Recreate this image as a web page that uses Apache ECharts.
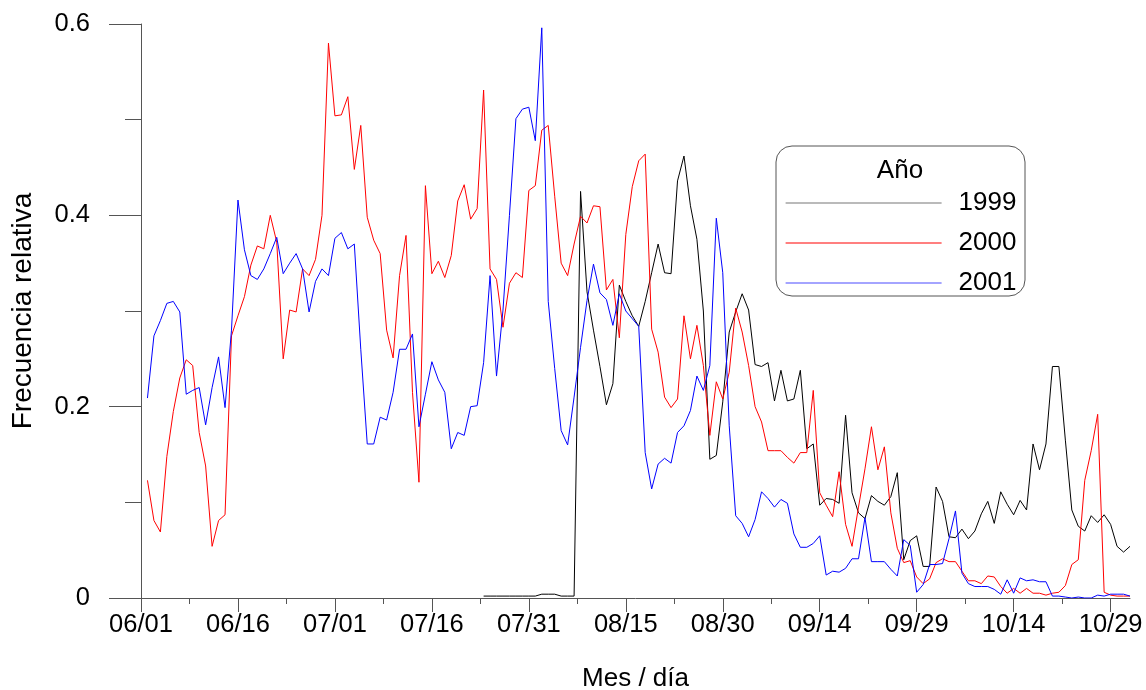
<!DOCTYPE html>
<html>
<head>
<meta charset="utf-8">
<script src="https://cdn.jsdelivr.net/npm/echarts@6/dist/echarts.min.js"></script>
<style>
  html, body { margin: 0; padding: 0; background: #ffffff; }
  #chart { width: 1146px; height: 690px; }
</style>
</head>
<body>
<div id="chart"></div>
<script>
// Day 0 is 06/01; the x axis counts days from there.
const DAY_MAX = 153;
const majorTicks = [0, 15, 30, 45, 60, 75, 90, 105, 120, 135, 150];
const minorTicks = [7.5, 22.5, 37.5, 52.5, 67.5, 82.5, 97.5, 112.5, 127.5, 142.5];
const seriesNames = ['1999', '2000', '2001'];

// 1999 — starts on day 53
const start1999 = 53;
const values1999 = [
  0.002, 0.002, 0.002, 0.002, 0.002, 0.002, 0.002, 0.002, 0.002, 0.004,
  0.004, 0.004, 0.002, 0.002, 0.002, 0.425, 0.320, 0.280, 0.242, 0.202,
  0.224, 0.327, 0.310, 0.295, 0.284, 0.310, 0.340, 0.370, 0.340, 0.339,
  0.436, 0.462, 0.410, 0.375, 0.300, 0.145, 0.149, 0.205, 0.278, 0.299,
  0.318, 0.301, 0.244, 0.242, 0.246, 0.206, 0.238, 0.206, 0.208, 0.238,
  0.156, 0.161, 0.097, 0.104, 0.103, 0.099, 0.191, 0.110, 0.089, 0.083,
  0.107, 0.101, 0.097, 0.106, 0.131, 0.040, 0.060, 0.065, 0.033, 0.033,
  0.116, 0.101, 0.064, 0.063, 0.072, 0.062, 0.070, 0.088, 0.101, 0.078,
  0.111, 0.098, 0.087, 0.102, 0.092, 0.161, 0.134, 0.161, 0.242, 0.242,
  0.165, 0.092, 0.075, 0.070, 0.086, 0.079, 0.087, 0.077, 0.054, 0.048,
  0.054
];

// 2000 — starts on day 1
const start2000 = 1;
const values2000 = [
  0.123, 0.081, 0.069, 0.148, 0.195, 0.230, 0.249, 0.243, 0.173, 0.138,
  0.054, 0.081, 0.087, 0.274, 0.295, 0.315, 0.348, 0.368, 0.365, 0.400,
  0.372, 0.250, 0.301, 0.299, 0.344, 0.337, 0.354, 0.400, 0.580, 0.504,
  0.505, 0.524, 0.448, 0.494, 0.398, 0.374, 0.360, 0.280, 0.251, 0.337,
  0.379, 0.215, 0.121, 0.431, 0.339, 0.352, 0.335, 0.358, 0.415, 0.432,
  0.396, 0.407, 0.531, 0.344, 0.333, 0.283, 0.329, 0.340, 0.335, 0.426,
  0.431, 0.489, 0.494, 0.420, 0.350, 0.337, 0.370, 0.399, 0.392, 0.410,
  0.409, 0.322, 0.333, 0.272, 0.380, 0.430, 0.457, 0.464, 0.281, 0.257,
  0.210, 0.199, 0.208, 0.295, 0.250, 0.285, 0.243, 0.170, 0.226, 0.208,
  0.236, 0.303, 0.278, 0.243, 0.200, 0.184, 0.154, 0.154, 0.154, 0.147,
  0.141, 0.152, 0.152, 0.217, 0.110, 0.097, 0.085, 0.132, 0.077, 0.054,
  0.095, 0.135, 0.179, 0.134, 0.158, 0.089, 0.052, 0.037, 0.039, 0.022,
  0.015, 0.020, 0.037, 0.041, 0.038, 0.038, 0.028, 0.018, 0.018, 0.015,
  0.023, 0.022, 0.012, 0.005, 0.010, 0.005, 0.010, 0.005, 0.005, 0.003,
  0.005, 0.006, 0.013, 0.035, 0.040, 0.123, 0.154, 0.192, 0.006, 0.003,
  0.002, 0.002, 0.002
];

// 2001 — starts on day 1
const start2001 = 1;
const values2001 = [
  0.209, 0.274, 0.290, 0.308, 0.310, 0.299, 0.213, 0.217, 0.220, 0.181,
  0.220, 0.252, 0.199, 0.280, 0.416, 0.364, 0.337, 0.333, 0.344, 0.360,
  0.377, 0.339, 0.350, 0.360, 0.344, 0.299, 0.331, 0.344, 0.337, 0.376,
  0.382, 0.365, 0.370, 0.260, 0.161, 0.161, 0.189, 0.186, 0.215, 0.260,
  0.260, 0.276, 0.179, 0.213, 0.247, 0.228, 0.215, 0.156, 0.173, 0.170,
  0.200, 0.201, 0.246, 0.337, 0.232, 0.301, 0.400, 0.501, 0.511, 0.513,
  0.478, 0.596, 0.310, 0.240, 0.175, 0.160, 0.210, 0.262, 0.311, 0.349,
  0.319, 0.312, 0.285, 0.318, 0.300, 0.292, 0.284, 0.152, 0.114, 0.140,
  0.146, 0.141, 0.173, 0.180, 0.196, 0.232, 0.217, 0.243, 0.397, 0.340,
  0.180, 0.086, 0.078, 0.064, 0.082, 0.111, 0.104, 0.095, 0.103, 0.099,
  0.067, 0.053, 0.053, 0.057, 0.065, 0.024, 0.028, 0.027, 0.031, 0.041,
  0.041, 0.084, 0.038, 0.038, 0.038, 0.030, 0.023, 0.061, 0.055, 0.006,
  0.014, 0.035, 0.035, 0.036, 0.062, 0.091, 0.026, 0.015, 0.012, 0.012,
  0.012, 0.009, 0.004, 0.019, 0.005, 0.021, 0.018, 0.019, 0.017, 0.017,
  0.002, 0.002, 0.001, 0.000, 0.001, 0.000, 0.000, 0.003, 0.002, 0.004,
  0.004, 0.004, 0.002
];

const seriesColors = ['#000000', '#ff0000', '#0000ff'];
const legendColors = ['#777777', '#ff0000', '#4a4aff'];
const FONT = '"Liberation Sans", Arial, sans-serif';
const AXIS_COLOR = '#555555';

function toPairs(start, values) {
  return values.map((v, i) => [start + i, v]);
}

function dayLabel(day) {
  const d = new Date(Date.UTC(2001, 5, 1) + Math.round(day) * 86400000);
  const mm = String(d.getUTCMonth() + 1).padStart(2, '0');
  const dd = String(d.getUTCDate()).padStart(2, '0');
  return mm + '/' + dd;
}

const chart = echarts.init(document.getElementById('chart'), null, { renderer: 'canvas' });

const lineData = [
  toPairs(start1999, values1999),
  toPairs(start2000, values2000),
  toPairs(start2001, values2001)
];

chart.setOption({
  animation: false,
  backgroundColor: '#ffffff',
  textStyle: { fontFamily: FONT },
  grid: {
    left: 141, right: 16, top: 24, bottom: 92,
    containLabel: false,
    outerBoundsMode: 'none'
  },
  xAxis: [
    {
      type: 'value',
      position: 'bottom',
      min: 0,
      max: DAY_MAX,
      name: 'Mes / día',
      nameLocation: 'middle',
      nameGap: 68,
      nameTextStyle: { fontSize: 26, color: '#000', fontFamily: FONT },
      axisLine: { onZero: false, lineStyle: { color: AXIS_COLOR, width: 1 } },
      axisTick: { customValues: majorTicks, length: 14, lineStyle: { color: AXIS_COLOR } },
      axisLabel: {
        customValues: majorTicks,
        formatter: dayLabel,
        margin: 14,
        fontSize: 25.5,
        color: '#000',
        fontFamily: FONT
      },
      splitLine: { show: false }
    },
    {
      type: 'value',
      position: 'bottom',
      offset: 0,
      min: 0,
      max: DAY_MAX,
      axisLine: { show: false, onZero: false },
      axisTick: { customValues: minorTicks, length: 6, lineStyle: { color: AXIS_COLOR } },
      axisLabel: { show: false },
      splitLine: { show: false }
    }
  ],
  yAxis: {
    type: 'value',
    min: 0,
    max: 0.6,
    interval: 0.2,
    name: 'Frecuencia relativa',
    nameLocation: 'middle',
    nameGap: 104,
    nameTextStyle: { fontSize: 28, color: '#000', fontFamily: FONT },
    axisLine: { show: true, lineStyle: { color: AXIS_COLOR, width: 1 } },
    axisTick: { show: true, length: 32, lineStyle: { color: AXIS_COLOR } },
    minorTick: { show: true, splitNumber: 2, length: 16, lineStyle: { color: AXIS_COLOR } },
    axisLabel: {
      formatter: v => (v === 0 ? '0' : v.toFixed(1)),
      margin: 51,
      fontSize: 25.5,
      color: '#000',
      fontFamily: FONT
    },
    splitLine: { show: false },
    minorSplitLine: { show: false }
  },
  legend: {
    data: seriesNames.map((name, i) => ({ name: name, lineStyle: { color: legendColors[i], width: 1.2 } })),
    orient: 'vertical',
    left: 785,
    top: 190,
    padding: 0,
    itemWidth: 156,
    itemHeight: 25,
    itemGap: 14,
    itemStyle: { opacity: 0 },
    textStyle: { fontSize: 26, color: '#000', fontFamily: FONT, padding: [0, 0, 0, 12] }
  },
  graphic: [
    {
      type: 'rect',
      shape: { x: 776, y: 146, width: 249, height: 150, r: 16 },
      style: { fill: 'none', stroke: '#555555', lineWidth: 1 },
      silent: true
    },
    {
      type: 'text',
      x: 900,
      y: 171,
      style: {
        text: 'Año',
        fontSize: 26,
        fontFamily: FONT,
        fill: '#000',
        align: 'center',
        verticalAlign: 'middle'
      },
      silent: true
    }
  ],
  series: seriesNames.map((name, i) => ({
    name: name,
    type: 'line',
    xAxisIndex: 0,
    data: lineData[i],
    symbol: 'none',
    lineStyle: { color: seriesColors[i], width: 1 },
    itemStyle: { color: seriesColors[i] },
    emphasis: { disabled: true }
  }))
});
</script>
</body>
</html>
